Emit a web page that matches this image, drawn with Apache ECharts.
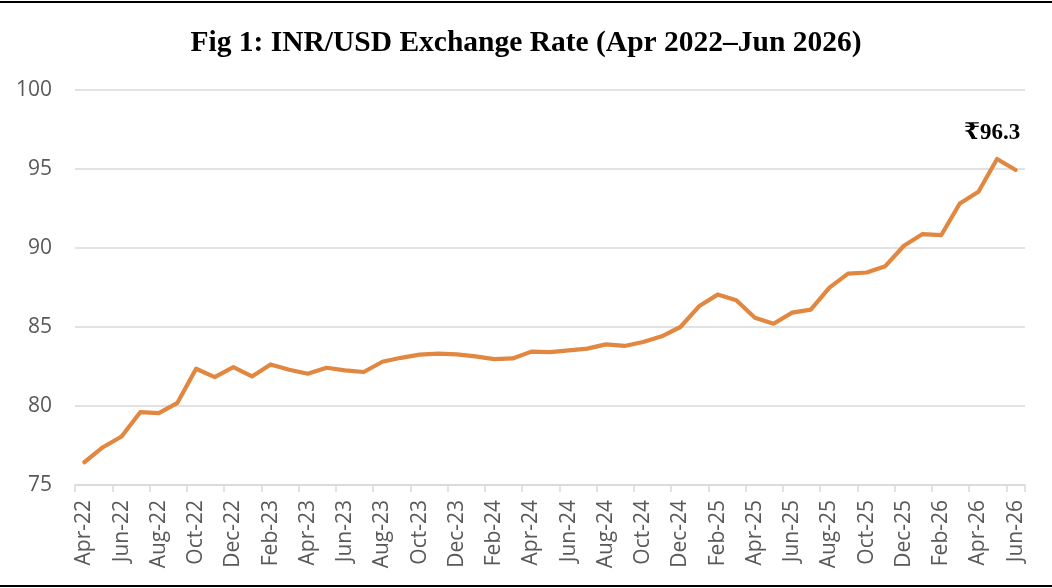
<!DOCTYPE html>
<html lang="en">
<head>
    <meta charset="UTF-8">
    <title>INR/USD Exchange Rate</title>
    <script src="https://cdn.jsdelivr.net/npm/echarts@6/dist/echarts.min.js"></script>
</head>
<style>
    html,body{
        margin:0;
        padding:0;
        background:#fff;
    }
    #chart{
        width:1052px;
        height:588px;
    }
</style>
<body>
    <div id="chart"></div>
    <script>
        // monthly INR per USD, Apr-22 .. Jun-26
        var months=['Apr-22','May-22','Jun-22','Jul-22','Aug-22','Sep-22','Oct-22','Nov-22','Dec-22',
            'Jan-23','Feb-23','Mar-23','Apr-23','May-23','Jun-23','Jul-23','Aug-23','Sep-23','Oct-23','Nov-23','Dec-23',
            'Jan-24','Feb-24','Mar-24','Apr-24','May-24','Jun-24','Jul-24','Aug-24','Sep-24','Oct-24','Nov-24','Dec-24',
            'Jan-25','Feb-25','Mar-25','Apr-25','May-25','Jun-25','Jul-25','Aug-25','Sep-25','Oct-25','Nov-25','Dec-25',
            'Jan-26','Feb-26','Mar-26','Apr-26','May-26','Jun-26'];
        var rates=[76.44,77.39,78.07,79.61,79.55,80.2,82.36,81.83,82.46,
            81.87,82.63,82.29,82.04,82.42,82.25,82.15,82.8,83.05,83.25,83.31,83.27,
            83.14,82.97,83.01,83.44,83.41,83.52,83.63,83.9,83.8,84.05,84.41,85.0,
            86.31,87.05,86.69,85.59,85.21,85.91,86.1,87.49,88.38,88.45,88.85,90.14,
            90.88,90.81,92.82,93.56,95.63,94.94];
        var yTicks=[75,80,85,90,95,100];
        var peakIndex=49;
        var peakText='₹96.3';

        var lineColor='#e1873f';
        var chart=echarts.init(document.getElementById('chart'));
        var seriesData=rates.map(function(v,i){
            if(i!==peakIndex) return v;
            return {
                value:v,
                label:{
                    show:true,
                    position:'top',
                    distance:14,
                    offset:[-5,0],
                    formatter:peakText,
                    color:'#000',
                    fontFamily:'Liberation Serif, DejaVu Serif, serif',
                    fontWeight:'bold',
                    fontSize:23
                }
            };
        });

        var option={
            animation:false,
            title:{
                text:'Fig 1: INR/USD Exchange Rate (Apr 2022\u2013Jun 2026)',
                left:'center',
                top:23,
                textStyle:{
                    fontFamily:'Liberation Serif, serif',
                    fontWeight:'bold',
                    fontSize:29.5,
                    color:'#000'
                }
            },
            grid:{
                left:75,
                right:27,
                top:90,
                bottom:103,
                containLabel:false
            },
            xAxis:{
                type:'category',
                data:months,
                boundaryGap:true,
                axisLine:{lineStyle:{color:'#d9d9d9',width:1.5}},
                axisTick:{show:true,interval:1,length:7,lineStyle:{color:'#d9d9d9',width:1.5}},
                axisLabel:{
                    interval:1,
                    rotate:90,
                    margin:15,
                    color:'#595959',
                    fontFamily:'Open Sans',
                    fontSize:21
                }
            },
            yAxis:{
                type:'value',
                min:yTicks[0],
                max:yTicks[yTicks.length-1],
                interval:5,
                axisLine:{show:false},
                axisTick:{show:false},
                splitLine:{lineStyle:{color:'#d9d9d9',width:1.5}},
                axisLabel:{
                    margin:23,
                    color:'#595959',
                    fontFamily:'Open Sans',
                    fontSize:21
                }
            },
            series:[{
                name:'INR/USD',
                type:'line',
                data:seriesData,
                symbol:'circle',
                symbolSize:1,
                showSymbol:true,
                smooth:false,
                lineStyle:{color:lineColor,width:4.2,cap:'round',join:'round'},
                itemStyle:{color:lineColor}
            }],
            graphic:[
                {type:'rect',shape:{x:0,y:1,width:1052,height:2},style:{fill:'#000'}},
                {type:'rect',shape:{x:0,y:585,width:1052,height:2},style:{fill:'#000'}}
            ]
        };
        chart.setOption(option);
    </script>
</body>
</html>
